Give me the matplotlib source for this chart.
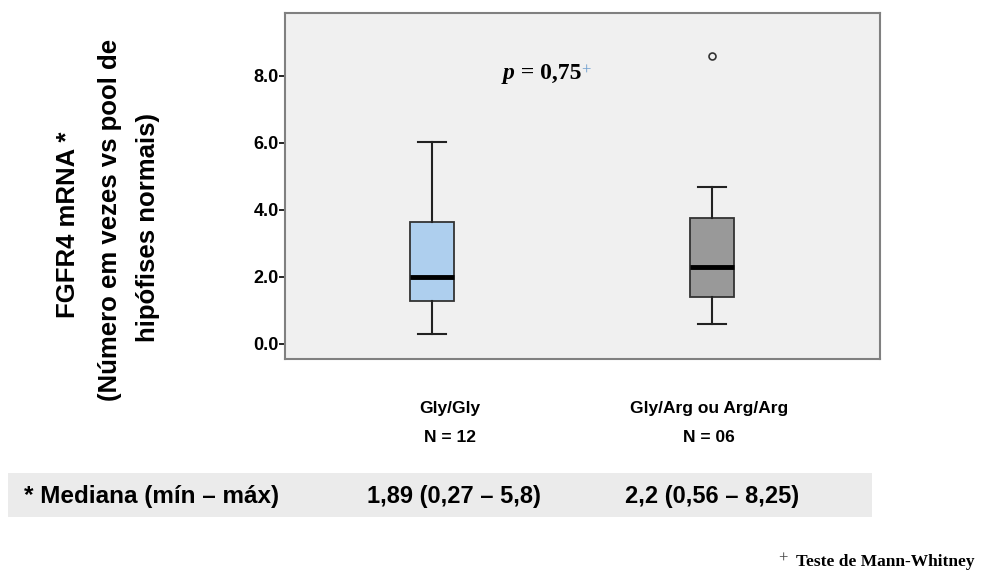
import matplotlib
matplotlib.use("Agg")
import matplotlib.pyplot as plt
from matplotlib.patches import Rectangle

# ---- data ----
groups = ["Gly/Gly", "Gly/Arg ou Arg/Arg"]
n_labels = ["N = 12", "N = 06"]
whislo = [0.30, 0.60]
q1 = [1.28, 1.40]
med = [2.00, 2.30]
q3 = [3.64, 3.76]
whishi = [6.03, 4.69]
fliers = [[], [8.60]]
box_colors = ["#AECFEE", "#999999"]
yticks = [0.0, 2.0, 4.0, 6.0, 8.0]
ytick_labels = ["0.0", "2.0", "4.0", "6.0", "8.0"]
summary_label = "* Mediana (mín – máx)"
summary_values = ["1,89 (0,27 – 5,8)", "2,2 (0,56 – 8,25)"]

sans = ["Liberation Sans", "DejaVu Sans"]
serif = ["Liberation Serif", "DejaVu Serif"]

fig = plt.figure(figsize=(9.82, 5.71), dpi=100)
ax = fig.add_axes([285/982, 1-359/571, 595/982, 346/571])
ax.set_facecolor("#F0F0F0")

stats = []
for i in range(len(groups)):
    stats.append(dict(whislo=whislo[i], q1=q1[i], med=med[i], q3=q3[i],
                      whishi=whishi[i], fliers=fliers[i], label=groups[i]))
positions = [1, 2]
bp = ax.bxp(stats, positions=positions, widths=0.155, patch_artist=True,
            showfliers=True, capwidths=0.1,
            boxprops=dict(edgecolor="#333333", linewidth=1.3),
            whiskerprops=dict(color="#222222", linewidth=1.5),
            capprops=dict(color="#222222", linewidth=1.5),
            medianprops=dict(color="black", linewidth=3.5),
            flierprops=dict(marker="o", markersize=5, markerfacecolor="none",
                            markeredgecolor="#333333", markeredgewidth=1.2))
for patch, c in zip(bp["boxes"], box_colors):
    patch.set_facecolor(c)

ax.set_xlim(0.475, 2.6)
ax.set_ylim(-0.45, 9.88)
ax.set_yticks(yticks)
ax.set_yticklabels(ytick_labels, fontfamily=sans, fontweight="bold", fontsize=13)
ax.set_xticks([])
ax.tick_params(axis="y", length=4, width=1.2, direction="out", pad=0.5)
for s in ax.spines.values():
    s.set_color("#808080")
    s.set_linewidth(1.5)

# p value annotation
tp = fig.text(503/982, 1-79/571, "p", fontfamily=serif, fontsize=17,
              fontweight="bold", fontstyle="italic", ha="left", va="baseline")
tv = ax.annotate(" = 0,75", xy=(1, 0), xycoords=tp, fontfamily=serif,
                 fontsize=17, fontweight="bold", ha="left", va="bottom",
                 annotation_clip=False)
tv2 = ax.annotate("+", xy=(1, 1), xycoords=tv, fontfamily=serif, fontsize=12,
                  color="#6F9FD0", ha="left", va="top", annotation_clip=False)

# y label (three lines)
fig.text(68/982, 1-225/571, "FGFR4 mRNA *", rotation=90, fontfamily=sans,
         fontsize=18.5, fontweight="bold", ha="center", va="center")
fig.text(110/982, 1-220/571, "(Número em vezes vs pool de", rotation=90,
         fontfamily=sans, fontsize=18.5, fontweight="bold", ha="center", va="center")
fig.text(148/982, 1-227/571, "hipófises normais)", rotation=90,
         fontfamily=sans, fontsize=18.5, fontweight="bold", ha="center", va="center")

# category labels
label_x = [450, 709]
for gx, g, n in zip(label_x, groups, n_labels):
    fig.text(gx/982, 1-408/571, g, fontfamily=sans, fontsize=12.5,
             fontweight="bold", ha="center", va="center")
    fig.text(gx/982, 1-438/571, n, fontfamily=sans, fontsize=12.5,
             fontweight="bold", ha="center", va="center")

# summary band
fig.patches.append(Rectangle((8/982, 1-517/571), 864/982, 44/571,
                             transform=fig.transFigure, facecolor="#EBEBEB",
                             edgecolor="none", zorder=0))
fig.text(24/982, 1-496/571, summary_label, fontfamily=sans, fontsize=17.5,
         fontweight="bold", ha="left", va="center")
for gx, v in zip([454, 712], summary_values):
    fig.text(gx/982, 1-496/571, v, fontfamily=sans, fontsize=17,
             fontweight="bold", ha="center", va="center")

# footnote
fig.text(778/982, 1-559/571, "+", fontfamily=serif, fontsize=12, color="#444444",
         ha="left", va="center")
fig.text(796/982, 1-562/571, "Teste de Mann-Whitney", fontfamily=serif,
         fontsize=12.5, fontweight="bold", ha="left", va="center")

fig.savefig("out.png", dpi=100)
